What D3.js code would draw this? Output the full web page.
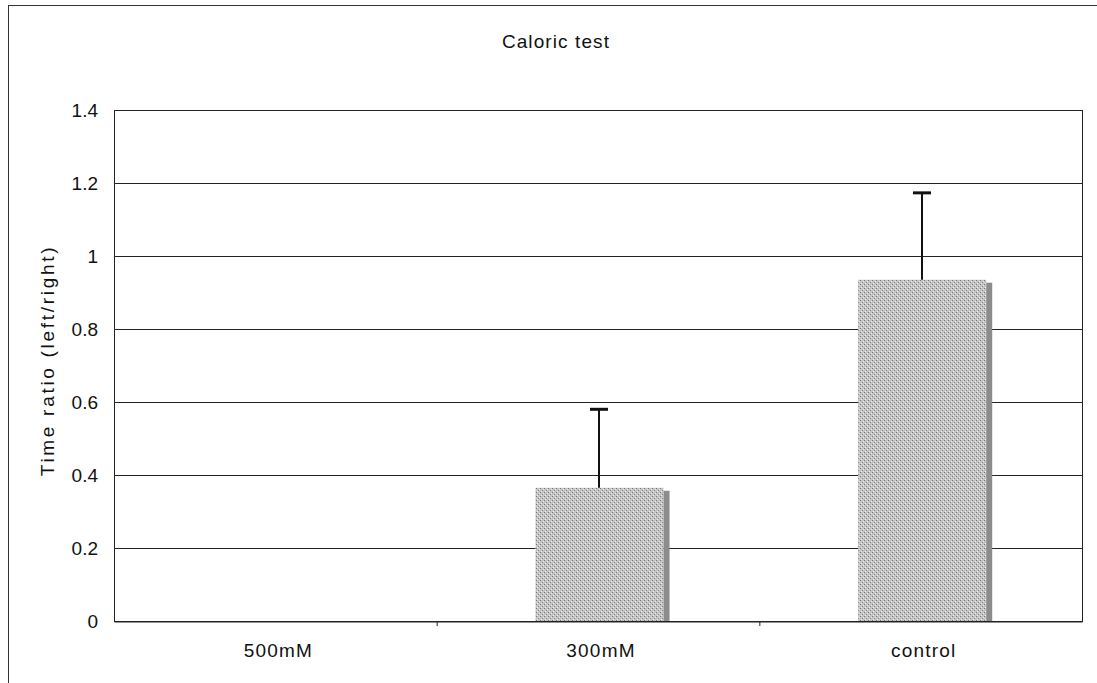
<!DOCTYPE html>
<html><head><meta charset="utf-8">
<script src="https://cdn.jsdelivr.net/npm/d3@7"></script>
<style>body{margin:0;background:#fff}svg{display:block}text{font-family:"Liberation Sans",Arial,sans-serif;fill:#111}</style>
</head><body><svg id="c" width="1097" height="683"></svg>
<script>
const categories = ["500mM", "300mM", "control"];
const means = [0, 0.365, 0.935];
const errorsUp = [0, 0.215, 0.238];
const yTicks = [0, 0.2, 0.4, 0.6, 0.8, 1, 1.2, 1.4];
const yTickLabels = ["0", "0.2", "0.4", "0.6", "0.8", "1", "1.2", "1.4"];
const title = "Caloric test";
const yLabel = "Time ratio (left/right)";

const FONT = "Liberation Sans, Arial, sans-serif";
const svg = d3.select("#c");
const m = {l:114, r:1082, t:110, b:621};
const xb = d3.scaleBand().domain(categories).range([m.l, m.r]);
const y = d3.scaleLinear().domain([0, 1.4]).range([m.b, m.t]);
const barW = xb.bandwidth() * 0.397;

// outer frame
svg.append("line").attr("x1",8).attr("x2",1097).attr("y1",5.5).attr("y2",5.5).attr("stroke","#333").attr("stroke-width",1);
svg.append("line").attr("x1",8.5).attr("x2",8.5).attr("y1",5).attr("y2",683).attr("stroke","#333").attr("stroke-width",1);

// stipple pattern for bars
const defs = svg.append("defs");
const pat = defs.append("pattern").attr("id","stip").attr("width",4).attr("height",4).attr("patternUnits","userSpaceOnUse");
pat.append("rect").attr("width",4).attr("height",4).attr("fill","#c4c4c4");
pat.append("rect").attr("x",0).attr("y",0).attr("width",1).attr("height",1).attr("fill","#777");
pat.append("rect").attr("x",2).attr("y",2).attr("width",1).attr("height",1).attr("fill","#888");
pat.append("rect").attr("x",3).attr("y",1).attr("width",1).attr("height",1).attr("fill","#e8e8e8");
pat.append("rect").attr("x",1).attr("y",3).attr("width",1).attr("height",1).attr("fill","#ececec");

// gridlines
svg.append("g").selectAll("line").data(yTicks.slice(1)).join("line")
  .attr("x1",m.l).attr("x2",m.r).attr("y1",d=>Math.round(y(d))+0.5).attr("y2",d=>Math.round(y(d))+0.5)
  .attr("stroke","#222").attr("stroke-width",1);

// plot border
svg.append("rect").attr("x",m.l+0.5).attr("y",m.t+0.5).attr("width",m.r-m.l).attr("height",m.b-m.t)
  .attr("fill","none").attr("stroke","#222").attr("stroke-width",1);

// bars
const bars = svg.append("g");
categories.forEach((c,i)=>{
  if(means[i] <= 0) return;
  const cx = xb(c) + xb.bandwidth()/2 + 1.5;
  const bx = cx - barW/2, by = y(means[i]);
  bars.append("rect").attr("x",bx).attr("y",by).attr("width",barW).attr("height",y(0)-by).attr("fill","url(#stip)");
  bars.append("rect").attr("x",bx+barW).attr("y",by+3).attr("width",6).attr("height",y(0)-by-3).attr("fill","#8c8c8c");
});

// error bars
const eb = svg.append("g").attr("stroke","#111");
categories.forEach((c,i)=>{
  if(errorsUp[i] <= 0) return;
  const cx = Math.round(xb(c)+xb.bandwidth()/2)+1;
  eb.append("line").attr("x1",cx).attr("x2",cx).attr("y1",y(means[i])).attr("y2",y(means[i]+errorsUp[i])).attr("stroke-width",2);
  eb.append("line").attr("x1",cx-9).attr("x2",cx+9).attr("y1",y(means[i]+errorsUp[i])).attr("y2",y(means[i]+errorsUp[i])).attr("stroke-width",3);
});

// x axis
const xAxis = svg.append("g").attr("transform",`translate(0,${m.b+0.5})`)
  .call(d3.axisBottom(xb).tickSize(0).tickPadding(22));
xAxis.select(".domain").attr("stroke","#222");
xAxis.selectAll("text").attr("font-size",19).style("font-family",FONT).attr("fill","#111")
  .attr("letter-spacing","1.2px").attr("dx",3);
// category separator ticks
svg.append("g").selectAll("line").data(categories.slice(1)).join("line")
  .attr("x1",d=>xb(d)+0.5).attr("x2",d=>xb(d)+0.5).attr("y1",m.b).attr("y2",m.b+5).attr("stroke","#222");

// y axis
const yAxis = svg.append("g").attr("transform",`translate(${m.l},0)`)
  .call(d3.axisLeft(y).tickValues(yTicks).tickFormat((d,i)=>yTickLabels[i]).tickSize(0).tickPadding(16));
yAxis.select(".domain").remove();
yAxis.selectAll("text").attr("font-size",19).style("font-family",FONT).attr("fill","#111");

// title
svg.append("text").attr("x",556).attr("y",48).attr("text-anchor","middle").attr("font-size",19)
  .attr("letter-spacing","1.1px").text(title);
// y label
svg.append("text").attr("transform",`translate(54,${(m.t+m.b)/2-5}) rotate(-90)`).attr("text-anchor","middle")
  .attr("font-size",19).attr("letter-spacing","2.7px").text(yLabel);
</script></body></html>
